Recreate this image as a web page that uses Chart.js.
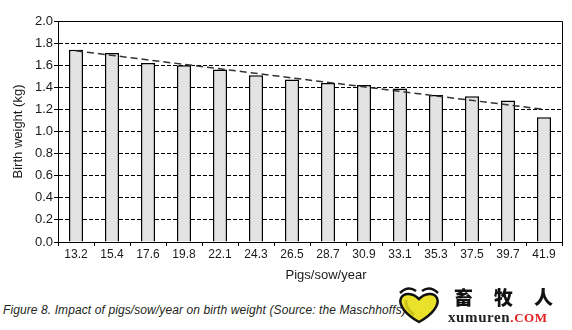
<!DOCTYPE html>
<html>
<head>
<meta charset="utf-8">
<title>Birth weight vs pigs/sow/year</title>
<script src="https://cdn.jsdelivr.net/npm/chart.js@4.4.1/dist/chart.umd.min.js"></script>
<style>
    html, body { margin: 0; padding: 0; background: #fff; }
    #wrap { position: relative; width: 572px; height: 330px; overflow: hidden; }
    #chartBox { position: absolute; left: 0; top: 0; width: 572px; height: 290px; }
    #caption {
        position: absolute; left: 3px; top: 303px;
        font: italic 12px "Liberation Sans", Arial, sans-serif;
        color: #231f20; white-space: nowrap; letter-spacing: 0.1px;
    }
    #logo { position: absolute; left: 396px; top: 285px; width: 176px; height: 45px; }
    #logo svg { position: absolute; left: 0; top: 0; }
    #logo .cn {
        position: absolute; left: 58px; top: 2px; white-space: nowrap;
        font: 900 19px "Noto Sans CJK SC", sans-serif; letter-spacing: 21px; color: #111;
        line-height: 20px;
    }
    #logo .en {
        position: absolute; left: 52px; top: 24px; white-space: nowrap;
        font: bold 15px "Liberation Serif", serif; color: #222; letter-spacing: 0.6px;
        line-height: 16px;
    }
    #logo .en span { color: #e32020; font-size: 13px; }
</style>
</head>
<body>
<div id="wrap">
    <div id="chartBox"><canvas id="weightChart" width="572" height="290"></canvas></div>
    <div id="caption">Figure 8. Impact of pigs/sow/year on birth weight (Source: the Maschhoffs)</div>
    <div id="logo">
        <svg width="48" height="40" viewBox="0 0 48 40">
            <path d="M4 8 Q12 0 20 6" fill="none" stroke="#111" stroke-width="2.5"/>
            <path d="M26 6 Q34 0 42 8" fill="none" stroke="#111" stroke-width="2.5"/>
            <path d="M23 37 C10 30 2 20 5 13 C8 7 17 8 23 14 C29 8 38 7 41 13 C44 20 36 30 23 37 Z"
                  fill="#e9e12a" stroke="#111" stroke-width="2.5"/>
            <path d="M10 15 C9 21 13 26 18 30" fill="none" stroke="#c9c21a" stroke-width="3"/>
        </svg>
        <div class="cn">畜牧人</div>
        <div class="en">xumuren<span>.COM</span></div>
    </div>
</div>

<script>
// ======================================
// Data
// ======================================
const pigsPerSow = ['13.2', '15.4', '17.6', '19.8', '22.1', '24.3', '26.5',
                    '28.7', '30.9', '33.1', '35.3', '37.5', '39.7', '41.9'];
const birthWeight = [1.74, 1.71, 1.62, 1.60, 1.56, 1.51, 1.47,
                     1.44, 1.42, 1.39, 1.33, 1.32, 1.28, 1.13];
// trend line: only its two end points are given, the gap is spanned
const trendWeight = [1.73, null, null, null, null, null, null,
                     null, null, null, null, null, null, 1.20];
const yTitle = 'Birth weight (kg)';
const xTitle = 'Pigs/sow/year';

const textColor = '#1a1a1a';
const axisFont = { family: '"Liberation Sans", Arial, sans-serif', size: 13 };

// ======================================
// Plugins: top/right frame and x title
// ======================================
const framePlugin = {
    id: 'frame',
    afterDatasetsDraw(chart) {
        const { ctx, chartArea: a } = chart;
        ctx.save();
        ctx.strokeStyle = '#000';
        ctx.lineWidth = 1;
        ctx.beginPath();
        ctx.moveTo(a.left, a.top + 0.5);
        ctx.lineTo(a.right + 0.5, a.top + 0.5);
        ctx.lineTo(a.right + 0.5, a.bottom);
        ctx.stroke();
        ctx.restore();
    }
};

const xTitlePlugin = {
    id: 'xTitle',
    afterDraw(chart) {
        const { ctx } = chart;
        ctx.save();
        ctx.font = '13px "Liberation Sans", Arial, sans-serif';
        ctx.fillStyle = textColor;
        ctx.textAlign = 'center';
        ctx.textBaseline = 'middle';
        ctx.fillText(xTitle, 326, 275);
        ctx.restore();
    }
};

// ======================================
// Chart
// ======================================
function createWeightChart() {
    const ctx = document.getElementById('weightChart');
    if (!ctx) return;

    new Chart(ctx, {
        type: 'bar',
        data: {
            labels: pigsPerSow,
            datasets: [
                {
                    type: 'line',
                    label: 'Trend',
                    data: trendWeight,
                    spanGaps: true,
                    borderColor: '#333',
                    borderWidth: 1.5,
                    borderDash: [7, 4],
                    pointRadius: 0,
                    fill: false,
                    order: 0
                },
                {
                    label: yTitle,
                    data: birthWeight,
                    backgroundColor: '#e3e3e3',
                    borderColor: '#000',
                    borderWidth: 1.5,
                    borderSkipped: 'bottom',
                    barPercentage: 0.39,
                    categoryPercentage: 1,
                    order: 1
                }
            ]
        },
        options: {
            responsive: false,
            animation: false,
            layout: { padding: { top: 21, right: 10, left: 0, bottom: 0 } },
            plugins: {
                legend: { display: false },
                tooltip: { enabled: false },
                title: { display: false }
            },
            scales: {
                x: {
                    afterFit(scale) { scale.height = 48; },
                    grid: {
                        display: true,
                        drawOnChartArea: false,
                        offset: true,
                        tickLength: 4,
                        tickColor: '#000'
                    },
                    border: { color: '#000', width: 1 },
                    ticks: {
                        color: textColor,
                        font: { family: axisFont.family, size: 12 },
                        padding: 1,
                        autoSkip: false,
                        maxRotation: 0
                    }
                },
                y: {
                    min: 0,
                    max: 2,
                    afterFit(scale) { scale.width = 58; },
                    grid: {
                        color: '#000',
                        lineWidth: 1,
                        tickLength: 4,
                        tickColor: '#000'
                    },
                    border: { color: '#000', width: 1, dash: [4, 2] },
                    ticks: {
                        stepSize: 0.2,
                        color: textColor,
                        font: axisFont,
                        padding: 1,
                        callback: v => v.toFixed(1)
                    },
                    title: {
                        display: true,
                        text: yTitle,
                        color: textColor,
                        font: axisFont,
                        padding: { top: 11, bottom: 0 }
                    }
                }
            }
        },
        plugins: [framePlugin, xTitlePlugin]
    });
}

document.addEventListener('DOMContentLoaded', createWeightChart);
</script>
</body>
</html>
